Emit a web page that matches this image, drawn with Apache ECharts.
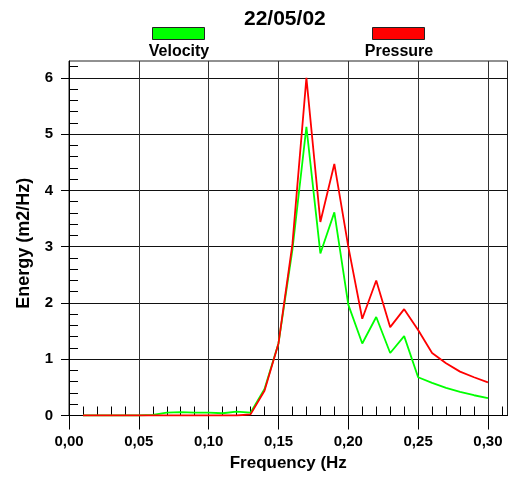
<!DOCTYPE html>
<html>
<head>
<meta charset="utf-8">
<script src="https://cdn.jsdelivr.net/npm/echarts@6/dist/echarts.min.js"></script>
<style>
html,body{margin:0;padding:0;background:#fff;}
#chart{width:510px;height:477px;}
</style>
</head>
<body>
<div id="chart"></div>
<script>
const titleText = '22/05/02';
const seriesNames = ['Velocity', 'Pressure'];
const frequency = [0.01,0.02,0.03,0.04,0.05,0.06,0.07,0.08,0.09,0.10,0.11,0.12,0.13,0.14,0.15,0.16,0.17,0.18,0.19,0.20,0.21,0.22,0.23,0.24,0.25,0.26,0.27,0.28,0.29,0.30];
const velocity = [0,0,0,0,0,0.01,0.05,0.06,0.05,0.05,0.04,0.07,0.05,0.47,1.28,2.95,5.13,2.88,3.61,1.97,1.28,1.75,1.11,1.41,0.68,0.58,0.49,0.42,0.36,0.31];
const pressure = [0,0,0,0,0,0,0,0,0,0,0,0,0.02,0.44,1.28,3.05,6.0,3.44,4.47,3.0,1.72,2.40,1.57,1.89,1.52,1.11,0.93,0.78,0.68,0.59];
const xTicks = [0,0.05,0.10,0.15,0.20,0.25,0.30];
const yTicks = [0,1,2,3,4,5,6];
const xName = 'Frequency (Hz';
const yName = 'Energy (m2/Hz)';

const FONT = 'Arial, "Liberation Sans", sans-serif';
const chart = echarts.init(document.getElementById('chart'), null, {renderer: 'canvas'});

function pairs(ys) { return frequency.map((f, i) => [f, ys[i]]); }
function isOn(list, v) { return list.some(t => Math.abs(t - v) < 1e-6); }

const option = {
  animation: false,
  backgroundColor: '#fff',
  title: {
    text: titleText,
    left: 244, top: 9, padding: 0,
    textStyle: {fontFamily: FONT, fontWeight: 'bold', fontSize: 21, color: '#000'}
  },
  legend: [
    {data: [seriesNames[0]], left: 152, top: 27, padding: 0, itemWidth: 52, itemHeight: 12, icon: 'rect',
     formatter: () => '', itemStyle: {borderColor: '#222', borderWidth: 1}, selectedMode: false},
    {data: [seriesNames[1]], left: 372, top: 27, padding: 0, itemWidth: 52, itemHeight: 12, icon: 'rect',
     formatter: () => '', itemStyle: {borderColor: '#222', borderWidth: 1}, selectedMode: false}
  ],
  graphic: [
    {type: 'text', x: 179, y: 51.5, style: {text: seriesNames[0], fill: '#000', font: 'bold 16px ' + FONT, textAlign: 'center', textVerticalAlign: 'middle'}},
    {type: 'text', x: 399, y: 51.5, style: {text: seriesNames[1], fill: '#000', font: 'bold 16px ' + FONT, textAlign: 'center', textVerticalAlign: 'middle'}}
  ],
  grid: {left: 69, top: 61, right: 2.5, bottom: 61.5, containLabel: false,
    show: true, borderColor: '#222', borderWidth: 1, backgroundColor: 'transparent'},
  xAxis: {
    type: 'value', min: 0, max: 0.314, interval: 0.05,
    name: xName, nameLocation: 'middle', nameGap: 39,
    nameTextStyle: {fontFamily: FONT, fontWeight: 'bold', fontSize: 17, color: '#000'},
    axisLine: {show: true, lineStyle: {color: '#000', width: 1}},
    axisTick: {show: true, length: 14, lineStyle: {color: '#000', width: 1}, customValues: xTicks},
    minorTick: {show: true, splitNumber: 5, length: -9, lineStyle: {color: '#000', width: 1}},
    axisLabel: {margin: 19, fontFamily: FONT, fontWeight: 'bold', fontSize: 15, color: '#000',
      customValues: xTicks,
      formatter: v => isOn(xTicks, v) ? v.toFixed(2).replace('.', ',') : ''},
    splitLine: {show: true, lineStyle: {color: '#333', width: 1}}
  },
  yAxis: {
    type: 'value', min: 0, max: 6.3, interval: 1,
    name: yName, nameLocation: 'middle', nameGap: 36,
    nameTextStyle: {fontFamily: FONT, fontWeight: 'bold', fontSize: 18, color: '#000', padding: [0, 10, 0, 0]},
    axisLine: {show: true, lineStyle: {color: '#000', width: 1}},
    axisTick: {show: true, length: 8, lineStyle: {color: '#000', width: 1}, customValues: yTicks},
    minorTick: {show: true, splitNumber: 5, length: -9, lineStyle: {color: '#000', width: 1}},
    axisLabel: {margin: 16, fontFamily: FONT, fontWeight: 'bold', fontSize: 15, color: '#000',
      customValues: yTicks,
      formatter: v => isOn(yTicks, v) ? String(Math.round(v)) : ''},
    splitLine: {show: true, lineStyle: {color: '#111', width: 1}}
  },
  series: [
    {name: seriesNames[0], type: 'line', data: pairs(velocity), showSymbol: false, symbol: 'none',
     itemStyle: {color: '#00ff00'}, lineStyle: {color: '#00ff00', width: 1.8}, z: 3},
    {name: seriesNames[1], type: 'line', data: pairs(pressure), showSymbol: false, symbol: 'none',
     itemStyle: {color: '#ff0000'}, lineStyle: {color: '#ff0000', width: 1.8}, z: 4}
  ]
};
chart.setOption(option);
</script>
</body>
</html>
